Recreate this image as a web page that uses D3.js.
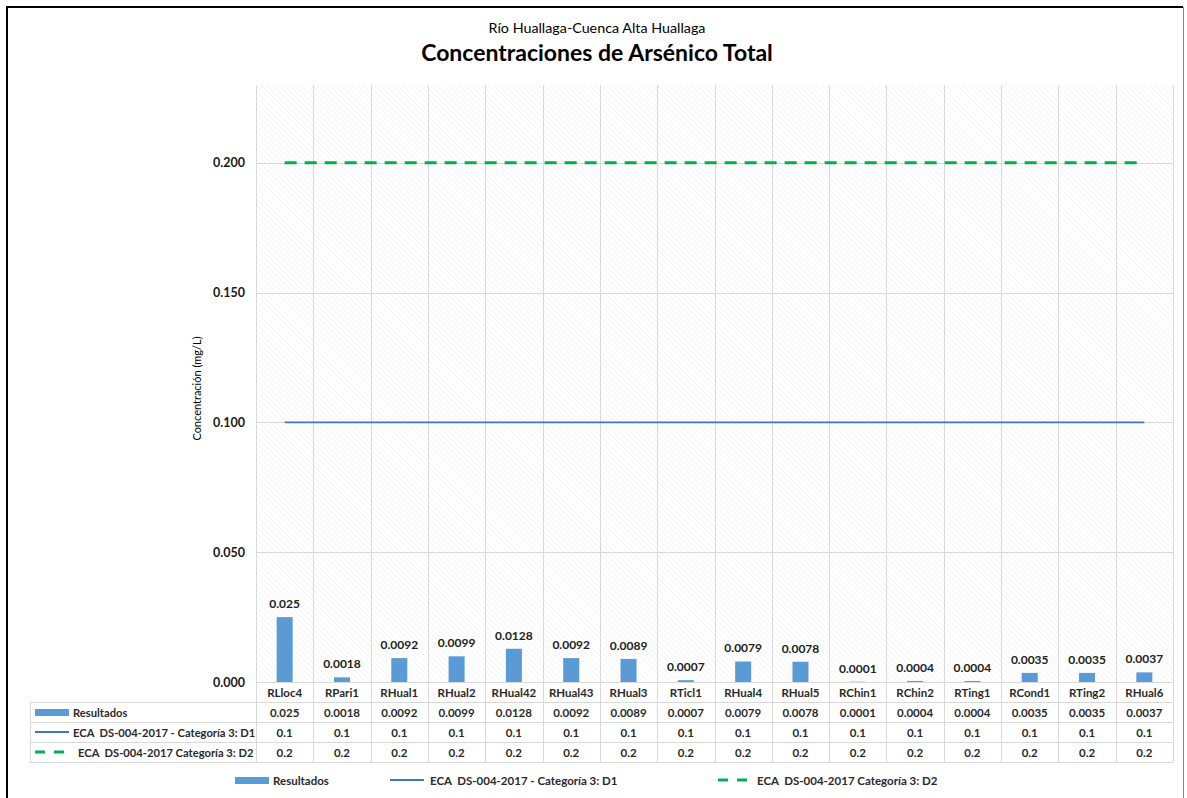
<!DOCTYPE html>
<html>
<head>
<meta charset="utf-8">
<script src="https://cdn.jsdelivr.net/npm/d3@7"></script>
<style>
  html, body { margin: 0; padding: 0; background: #fff; }
  svg { display: block; font-family: Lato, "Open Sans", sans-serif; }
  text { white-space: pre; }
</style>
</head>
<body>
<svg id="chart" width="1187" height="798"></svg>
<script>
// Sampling stations along the upper Huallaga basin
const stations = ["RLloc4", "RPari1", "RHual1", "RHual2", "RHual42", "RHual43", "RHual3", "RTicl1",
  "RHual4", "RHual5", "RChin1", "RChin2", "RTing1", "RCond1", "RTing2", "RHual6"];
// Total arsenic results (mg/L)
const resultados = [0.025, 0.0018, 0.0092, 0.0099, 0.0128, 0.0092, 0.0089, 0.0007,
  0.0079, 0.0078, 0.0001, 0.0004, 0.0004, 0.0035, 0.0035, 0.0037];
// Environmental quality standards (ECA) per station
const ecaD1 = [0.1, 0.1, 0.1, 0.1, 0.1, 0.1, 0.1, 0.1, 0.1, 0.1, 0.1, 0.1, 0.1, 0.1, 0.1, 0.1];
const ecaD2 = [0.2, 0.2, 0.2, 0.2, 0.2, 0.2, 0.2, 0.2, 0.2, 0.2, 0.2, 0.2, 0.2, 0.2, 0.2, 0.2];
const yTicks = [0, 0.05, 0.1, 0.15, 0.2];
const seriesNames = ["Resultados", "ECA  DS-004-2017 - Categoría 3: D1", "ECA  DS-004-2017 Categoría 3: D2"];

const svg = d3.select("#chart");
const barColor = "#5B9BD5", d1Color = "#4472C4", d2Color = "#00B050", gridColor = "#d9d9d9";

const plot = { left: 256, right: 1173, top: 85, bottom: 682 };
const x = d3.scaleBand().domain(stations).range([plot.left, plot.right]);
const y = d3.scaleLinear().domain([0, 0.23]).range([plot.bottom, plot.top]);

// Outer frame
svg.append("line").attr("x1", 7).attr("x2", 1183).attr("y1", 7).attr("y2", 7).attr("stroke", "#000").attr("stroke-width", 2);
svg.append("line").attr("x1", 7).attr("x2", 7).attr("y1", 6).attr("y2", 798).attr("stroke", "#000").attr("stroke-width", 2);
svg.append("line").attr("x1", 1183.5).attr("x2", 1183.5).attr("y1", 7).attr("y2", 798).attr("stroke", "#888").attr("stroke-width", 1);

// Titles
svg.append("text").attr("x", 597).attr("y", 33).attr("text-anchor", "middle")
  .attr("font-size", 14.3).attr("fill", "#000").text("Río Huallaga-Cuenca Alta Huallaga");
svg.append("text").attr("x", 597).attr("y", 61).attr("text-anchor", "middle")
  .attr("font-size", 23).attr("font-weight", "bold").attr("fill", "#000").text("Concentraciones de Arsénico Total");

// Hatched plot background
const defs = svg.append("defs");
const pat = defs.append("pattern").attr("id", "hatch").attr("patternUnits", "userSpaceOnUse")
  .attr("width", 4).attr("height", 4).attr("patternTransform", "rotate(-45)");
pat.append("rect").attr("width", 4).attr("height", 4).attr("fill", "#ffffff");
pat.append("line").attr("x1", 0).attr("y1", 0).attr("x2", 0).attr("y2", 4).attr("stroke", "#ebebeb").attr("stroke-width", 1);
svg.append("rect").attr("x", plot.left).attr("y", plot.top)
  .attr("width", plot.right - plot.left).attr("height", plot.bottom - plot.top).attr("fill", "url(#hatch)");

// Horizontal gridlines
svg.append("g").selectAll("line").data(yTicks).join("line")
  .attr("x1", plot.left).attr("x2", plot.right)
  .attr("y1", d => Math.round(y(d)) + 0.5).attr("y2", d => Math.round(y(d)) + 0.5)
  .attr("stroke", gridColor);

// Vertical category separators (plot and data table)
const tableRows = [682, 702, 722, 742, 762];
const bounds = stations.map(s => x(s)).concat([plot.right]);
svg.append("g").selectAll("line").data(bounds).join("line")
  .attr("x1", d => Math.round(d) + 0.5).attr("x2", d => Math.round(d) + 0.5)
  .attr("y1", plot.top).attr("y2", tableRows[4])
  .attr("stroke", gridColor);

// Y axis labels
const yAxis = d3.axisLeft(y).tickValues(yTicks).tickFormat(d3.format(".3f")).tickSize(0).tickPadding(11);
const yg = svg.append("g").attr("transform", `translate(${plot.left},0)`).call(yAxis);
yg.select(".domain").remove();
yg.selectAll("text").attr("font-size", 12.5).attr("font-weight", "bold").attr("fill", "#1a1a1a")
  .attr("font-family", "Lato, sans-serif");

svg.append("text").attr("transform", `translate(201,${(plot.top + plot.bottom) / 2 + 5}) rotate(-90)`)
  .attr("text-anchor", "middle").attr("font-size", 11).attr("fill", "#000").text("Concentración (mg/L)");

// Bars
const barW = 16;
svg.append("g").selectAll("rect").data(resultados).join("rect")
  .attr("x", (d, i) => x(stations[i]) + x.bandwidth() / 2 - barW / 2)
  .attr("y", d => y(d)).attr("width", barW).attr("height", d => y(0) - y(d))
  .attr("fill", barColor);

// Value labels
svg.append("g").selectAll("text").data(resultados).join("text")
  .attr("x", (d, i) => x(stations[i]) + x.bandwidth() / 2)
  .attr("y", d => y(d) - 9).attr("text-anchor", "middle")
  .attr("font-size", 12).attr("font-weight", "bold").attr("fill", "#222")
  .text(d => String(d));

// Standard lines
const lineGen = d3.line().x((d, i) => x(stations[i]) + x.bandwidth() / 2).y(d => y(d));
svg.append("path").datum(ecaD1).attr("d", lineGen).attr("fill", "none")
  .attr("stroke", d1Color).attr("stroke-width", 1.8);
svg.append("path").datum(ecaD2).attr("d", lineGen).attr("fill", "none")
  .attr("stroke", d2Color).attr("stroke-width", 3).attr("stroke-dasharray", "12,8");

// Data table
const tbl = svg.append("g");
tbl.selectAll("line.h").data(tableRows.slice(1)).join("line")
  .attr("x1", 30).attr("x2", plot.right)
  .attr("y1", d => d + 0.5).attr("y2", d => d + 0.5).attr("stroke", gridColor);
tbl.append("line").attr("x1", 30.5).attr("x2", 30.5).attr("y1", 702).attr("y2", 762).attr("stroke", gridColor);

// Category labels row
tbl.selectAll("text.cat").data(stations).join("text")
  .attr("x", d => x(d) + x.bandwidth() / 2).attr("y", 697).attr("text-anchor", "middle")
  .attr("font-size", 11.5).attr("font-weight", "bold").attr("fill", "#2a2a2a").text(d => d);

const rowsData = [resultados, ecaD1, ecaD2];
rowsData.forEach((vals, r) => {
  const cy = tableRows[r + 1] + 15;
  tbl.append("g").selectAll("text").data(vals).join("text")
    .attr("x", (d, i) => x(stations[i]) + x.bandwidth() / 2).attr("y", cy)
    .attr("text-anchor", "middle").attr("font-size", 11.5).attr("font-weight", "bold").attr("fill", "#2a2a2a")
    .text(d => String(d));
});

// Row headers with legend keys
function drawKey(g, k, kx, ky) {
  if (k === 0) g.append("rect").attr("x", kx).attr("y", ky - 3).attr("width", 34).attr("height", 7).attr("fill", barColor);
  if (k === 1) g.append("line").attr("x1", kx).attr("x2", kx + 34).attr("y1", ky).attr("y2", ky).attr("stroke", d1Color).attr("stroke-width", 1.8);
  if (k === 2) g.append("line").attr("x1", kx).attr("x2", kx + 34).attr("y1", ky).attr("y2", ky).attr("stroke", d2Color).attr("stroke-width", 3).attr("stroke-dasharray", "10,9");
}
seriesNames.forEach((name, k) => {
  const cy = tableRows[k + 1] + 10;
  drawKey(tbl, k, 35, cy);
  tbl.append("text").attr("x", k === 2 ? 78 : 73).attr("y", cy + 4.5)
    .attr("font-size", 11.2).attr("font-weight", "bold").attr("fill", "#2a2a2a").text(name);
});

// Bottom legend
const legendItems = [{ k: 0, kx: 235, tx: 273 }, { k: 1, kx: 390, tx: 430 }, { k: 2, kx: 718, tx: 757 }];
const lg = svg.append("g");
legendItems.forEach((it, i) => {
  drawKey(lg, it.k, it.kx, 780);
  lg.append("text").attr("x", it.tx).attr("y", 784.5).attr("font-size", 11.5).attr("font-weight", "bold")
    .attr("fill", "#2a2a2a").text(seriesNames[i]);
});
</script>
</body>
</html>
